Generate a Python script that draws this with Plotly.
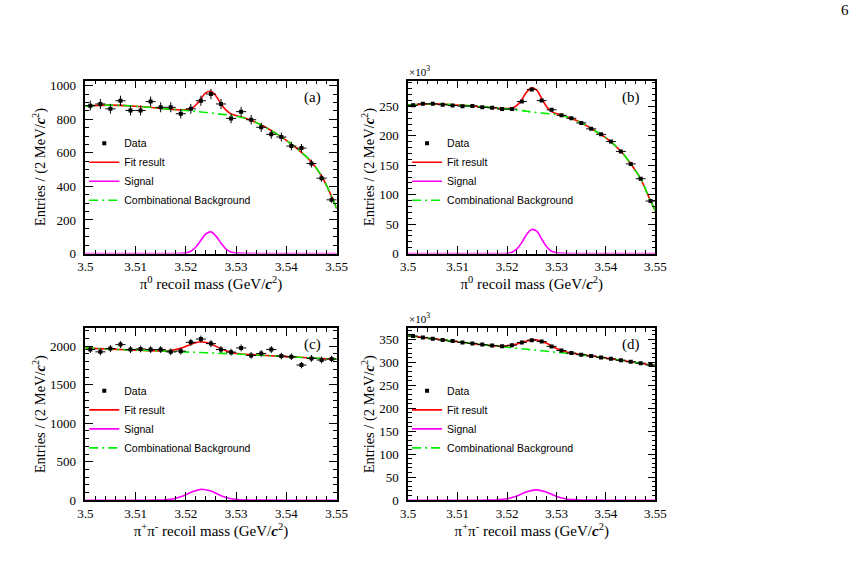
import plotly.graph_objects as go
import numpy as np

# ---------------- data ----------------
bin_x = [3.501, 3.503, 3.505, 3.507, 3.509, 3.511, 3.513, 3.515, 3.517, 3.519,
         3.521, 3.523, 3.525, 3.527, 3.529, 3.531, 3.533, 3.535, 3.537, 3.539,
         3.541, 3.543, 3.545, 3.547, 3.549]

data_a = [881, 891, 862, 910, 852, 852, 905, 871, 871, 833, 862, 910, 950, 891, 805,
          845, 797, 752, 710, 694, 640, 628, 536, 449, 320]
data_b = [252, 254.5, 254.5, 253, 251.6, 250.6, 251, 248.5, 247.8, 245.6, 245.6, 258.4,
          279, 260, 244.4, 235, 230, 222, 212, 202.6, 190.4, 173.6, 152.4, 127.2, 89.3]
data_c = [1958, 1928, 1971, 2022, 1958, 1966, 1958, 1958, 1928, 1937, 2052, 2094, 2035,
          1958, 1924, 1979, 1882, 1907, 1958, 1873, 1864, 1756, 1843, 1822, 1835]
data_d = [357, 354, 351, 348.5, 346, 343, 341, 338.5, 336.5, 335, 337, 343, 348, 345,
          334.5, 325.5, 320, 316.5, 313.5, 310.5, 307.5, 304.5, 301, 298, 294]

curve_x_a = [3.500, 3.505, 3.510, 3.515, 3.518, 3.520, 3.521, 3.522, 3.523, 3.524, 3.525,
             3.526, 3.527, 3.528, 3.529, 3.530, 3.532, 3.535, 3.538, 3.540, 3.543, 3.545,
             3.547, 3.549, 3.550]
bkg_a = [878, 884, 877, 865, 857, 852, 849, 846, 843, 840, 837, 834, 830, 827, 823, 818,
         804, 766, 714, 674, 603, 545, 462, 340, 268]
sig_a = [0, 0, 0, 0, 0, 4, 14, 39, 79, 118, 129, 104, 62, 27, 9, 4, 1, 0, 0, 0, 0, 0, 0, 0, 0]

curve_x_b = curve_x_a
bkg_b = [252.5, 254.5, 252.5, 249.5, 247.5, 246, 245, 244, 243, 241.8, 240.6, 239.7, 238.8,
         238, 237.2, 236.4, 232.5, 222.5, 207.5, 196.5, 174, 152.5, 127, 89.5, 72]
sig_b = [0, 0, 0, 0, 0, 0.5, 2.4, 7.9, 19, 33, 41, 38, 24.7, 11.7, 4, 1.5, 0.4, 0, 0, 0,
         0, 0, 0, 0, 0]

curve_x_c = [3.500, 3.505, 3.510, 3.513, 3.515, 3.517, 3.519, 3.521, 3.523, 3.525, 3.527,
             3.529, 3.531, 3.533, 3.536, 3.540, 3.545, 3.550]
bkg_c = [1978, 1964, 1951, 1944, 1939, 1934, 1929, 1924, 1919, 1913, 1908, 1902, 1896,
         1890, 1880, 1866, 1849, 1832]
sig_c = [0, 0, 0, 0, 2, 11, 44, 101, 141, 118, 59, 18, 5, 2, 0.5, 0, 0, 0]

curve_x_d = [3.500, 3.505, 3.510, 3.514, 3.516, 3.518, 3.520, 3.522, 3.524, 3.526, 3.528,
             3.530, 3.532, 3.534, 3.537, 3.540, 3.545, 3.550]
bkg_d = [358, 351, 344.5, 339.5, 337, 334.8, 332.6, 330.4, 328.2, 326, 323.8, 321.6, 319.4,
         317.2, 313.5, 309, 301, 292.5]
sig_d = [0, 0, 0, 0, 0.1, 0.6, 3.0, 9.1, 18.2, 22.5, 17.3, 8.2, 2.7, 1.0, 0.4, 0, 0, 0]

x_ticks = [3.50, 3.51, 3.52, 3.53, 3.54, 3.55]
panel_labels = ["(a)", "(b)", "(c)", "(d)"]
legend_names = ["Data", "Fit result", "Signal", "Combinational Background"]
x_titles = ["π<sup>0</sup> recoil mass (GeV/<b><i>c</i></b><sup>2</sup>)",
            "π<sup>0</sup> recoil mass (GeV/<b><i>c</i></b><sup>2</sup>)",
            "π<sup>+</sup>π<sup>-</sup> recoil mass (GeV/<b><i>c</i></b><sup>2</sup>)",
            "π<sup>+</sup>π<sup>-</sup> recoil mass (GeV/<b><i>c</i></b><sup>2</sup>)"]
y_title = "Entries / (2 MeV/<b><i>c</i></b><sup>2</sup>)"

# ---------------- layout geometry (pixels) ----------------
W, H = 867, 575
SERIF = "Liberation Serif"
SANS = "Liberation Sans"

panels = [
    dict(data=data_a, scale=1.0, cx=curve_x_a, bkg=bkg_a, sig=sig_a,
         xd=(79, 336), yd=(80, 256), yr=1030, ydt=200, ymin=50),
    dict(data=data_b, scale=1000.0, cx=curve_x_b, bkg=bkg_b, sig=sig_b,
         xd=(409, 662), yd=(80, 256), yr=294, ydt=50, ymin=10),
    dict(data=data_c, scale=1.0, cx=curve_x_c, bkg=bkg_c, sig=sig_c,
         xd=(79, 336), yd=(332, 507), yr=2235, ydt=500, ymin=100),
    dict(data=data_d, scale=1000.0, cx=curve_x_d, bkg=bkg_d, sig=sig_d,
         xd=(409, 662), yd=(332, 507), yr=374, ydt=50, ymin=10),
]

fig = go.Figure()
layout = dict(width=W, height=H, margin=dict(l=0, r=0, t=0, b=0),
              paper_bgcolor="white", plot_bgcolor="white", showlegend=True,
              annotations=[])

for i, p in enumerate(panels):
    n = "" if i == 0 else str(i + 1)
    xa, ya = "x" + n, "y" + n
    leg = "legend" + n
    tot = [b + s for b, s in zip(p["bkg"], p["sig"])]
    err = [np.sqrt(v * p["scale"]) / p["scale"] for v in p["data"]]

    fig.add_trace(go.Scatter(x=p["cx"], y=tot, mode="lines", name=legend_names[1],
                             line=dict(color="#ff0000", width=1.6, shape="spline"),
                             xaxis=xa, yaxis=ya, legend=leg, legendrank=2))
    fig.add_trace(go.Scatter(x=p["cx"], y=p["sig"], mode="lines", name=legend_names[2],
                             line=dict(color="#ff00ff", width=1.6, shape="spline"),
                             xaxis=xa, yaxis=ya, legend=leg, legendrank=3))
    fig.add_trace(go.Scatter(x=p["cx"], y=p["bkg"], mode="lines", name=legend_names[3],
                             line=dict(color="#00ee00", width=1.6, shape="spline",
                                       dash="9px,4px,2px,4px"),
                             xaxis=xa, yaxis=ya, legend=leg, legendrank=4))
    fig.add_trace(go.Scatter(x=bin_x, y=p["data"], mode="markers", name=legend_names[0],
                             marker=dict(color="black", size=4, symbol="square"),
                             error_y=dict(type="data", array=err, color="black",
                                          thickness=1, width=0),
                             error_x=dict(type="constant", value=0.001, color="black",
                                          thickness=1, width=0),
                             xaxis=xa, yaxis=ya, legend=leg, legendrank=1))

    x0, x1 = p["xd"]
    y0, y1 = p["yd"]
    layout["xaxis" + n] = dict(
        domain=[x0 / W, x1 / W], range=[3.4999999, 3.5500001], anchor=ya,
        tickvals=x_ticks, ticks="inside", ticklen=8, tickwidth=1, tickcolor="black",
        showline=True, linecolor="black", linewidth=1.5, mirror="ticks",
        showgrid=False, zeroline=False,
        minor=dict(dtick=0.002, tick0=3.5, ticks="inside", ticklen=4, tickcolor="black",
                   tickwidth=1, showgrid=False),
        tickfont=dict(family=SERIF, size=13, color="black"),
        title=dict(text=x_titles[i], font=dict(family=SERIF, size=15, color="black"),
                   standoff=1))
    layout["yaxis" + n] = dict(
        domain=[1 - y1 / H, 1 - y0 / H], range=[0, p["yr"]], anchor=xa,
        dtick=p["ydt"], tick0=0, ticks="inside", ticklen=8, tickwidth=1,
        tickcolor="black", showline=True, linecolor="black", linewidth=1.5,
        mirror="ticks", showgrid=False, zeroline=False, ticklabelstandoff=5,
        minor=dict(dtick=p["ymin"], tick0=0, ticks="inside", ticklen=4,
                   tickcolor="black", tickwidth=1, showgrid=False),
        tickfont=dict(family=SERIF, size=13, color="black"),
        title=dict(text=y_title, font=dict(family=SERIF, size=14.5, color="black"),
                   standoff=1))
    layout[leg] = dict(x=(x0 - 1) / W, y=1 - (y0 + 49) / H, xanchor="left",
                       yanchor="top", bgcolor="rgba(0,0,0,0)",
                       font=dict(family=SANS, size=10.5, color="black"),
                       itemwidth=30, tracegroupgap=0)
    layout["annotations"].append(dict(
        text=panel_labels[i], xref="paper", yref="paper", x=(x1 - 14) / W,
        y=1 - (y0 + 17) / H, xanchor="right", yanchor="middle", showarrow=False,
        font=dict(family=SERIF, size=15, color="black")))
    if p["scale"] > 1:
        layout["annotations"].append(dict(
            text="×10<sup>3</sup>", xref="paper", yref="paper", x=(x0 - 1) / W,
            y=1 - (y0 - 1) / H, xanchor="left", yanchor="bottom", showarrow=False,
            font=dict(family=SERIF, size=11, color="black")))

layout["annotations"].append(dict(text="6", xref="paper", yref="paper", x=862 / W,
                                  y=1 - 8 / H, xanchor="right", yanchor="middle",
                                  showarrow=False,
                                  font=dict(family=SERIF, size=15, color="black")))

fig.update_layout(**layout)
fig.write_html("out.html")
